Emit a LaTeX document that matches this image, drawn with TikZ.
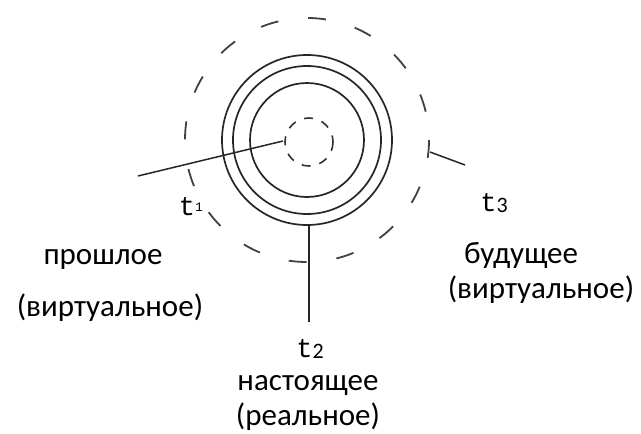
\documentclass[tikz,border=0pt]{standalone}
\usepackage{fontspec}
\setmainfont{Carlito}
\newfontfamily\monof{Liberation Mono}
\begin{document}
\begin{tikzpicture}[x=1pt,y=-1pt,
  ring/.style={draw=black!85,line width=1.7pt},
  dring/.style={draw=black!75,line width=1.8pt,dash pattern=on 18pt off 30pt},
  sdring/.style={draw=black!80,line width=1.6pt,dash pattern=on 9pt off 9pt},
  conn/.style={draw=black!85,line width=1.5pt},
  lbl/.style={font=\fontsize{31}{36}\selectfont,inner sep=0pt,anchor=center},
  tl/.style={font=\monof\fontsize{27}{30}\selectfont,inner sep=0pt,anchor=center}]
\useasboundingbox (0,0) rectangle (641,434);
\coordinate (c) at (307,140);
\draw[dring] (c) circle (122);
\draw[ring] (c) circle (85);
\draw[ring] (c) circle (74);
\draw[ring] (c) circle (57);
\draw[sdring] (309,142) circle (24);
\coordinate (l1) at (138,176);
\coordinate (l1e) at (283,141);
\coordinate (v1) at (309,225);
\coordinate (v1e) at (309,322);
\coordinate (r1) at (430,152);
\coordinate (r1e) at (465,165);
\draw[conn] (l1) -- (l1e);
\draw[conn] (v1) -- (v1e);
\draw[conn] (r1) -- (r1e);
\node[tl] (t1) at (191,207) {t\raisebox{4pt}{\fontsize{13}{14}\selectfont 1}};
\node[lbl] (p1) at (103,259) {прошлое};
\node[lbl] (p2) at (110,308) {(виртуальное)};
\node[tl] (t3) at (494,203) {t\raisebox{-1pt}{\fontsize{22}{24}\selectfont\rmfamily 3}};
\node[lbl] (f1) at (521,255) {будущее};
\node[lbl] (f2) at (541,290) {(виртуальное)};
\node[tl] (t2) at (310,349) {t\raisebox{-1pt}{\fontsize{22}{24}\selectfont\rmfamily 2}};
\node[lbl] (n1) at (308,386) {настоящее};
\node[lbl] (n2) at (308,417) {(реальное)};
\end{tikzpicture}
\end{document}
